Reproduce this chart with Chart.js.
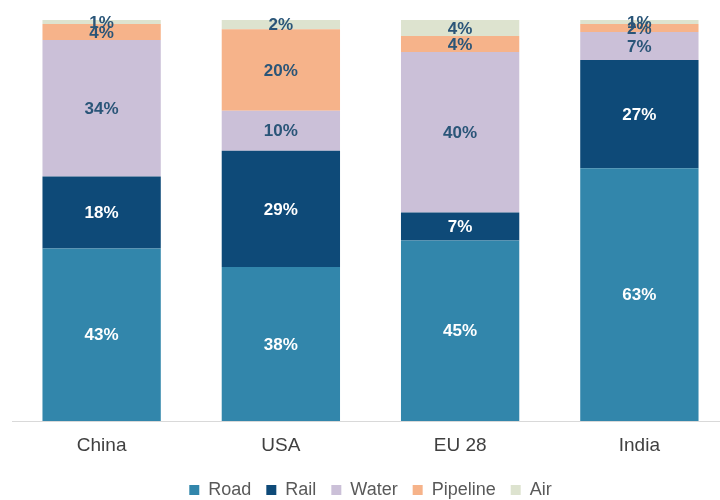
<!DOCTYPE html>
<html>
<head>
<meta charset="utf-8">
<script src="https://cdn.jsdelivr.net/npm/chart.js@4"></script>
<style>
  html, body { margin: 0; padding: 0; background: #ffffff; overflow: hidden; }
  #wrap { position: relative; width: 730px; height: 509px; }
</style>
</head>
<body>
<div id="wrap"><canvas id="c"></canvas></div>
<script>
const categories = ["China", "USA", "EU 28", "India"];
const road     = [43, 38.4, 45, 63];
const rail     = [18, 29, 7, 27];
const water    = [34, 10, 40, 7];
const pipeline = [4, 20.3, 4, 2];
const air      = [1, 2.3, 4, 1];
const seriesNames = ["Road", "Rail", "Water", "Pipeline", "Air"];
const seriesColors = ["#3286AB", "#0E4A78", "#CBC0D8", "#F6B38A", "#DDE3CF"];
const labelColors = ["#ffffff", "#ffffff", "#2A5578", "#2A5578", "#2A5578"];

const valueLabels = {
  id: "valueLabels",
  afterDatasetsDraw(chart) {
    const ctx = chart.ctx;
    ctx.save();
    ctx.font = "bold 17px 'Liberation Sans', Arial, sans-serif";
    ctx.textAlign = "center";
    ctx.textBaseline = "middle";
    chart.data.datasets.forEach((ds, di) => {
      const meta = chart.getDatasetMeta(di);
      meta.data.forEach((bar, i) => {
        const v = ds.data[i];
        const y = (bar.y + bar.base) / 2;
        ctx.fillStyle = labelColors[di];
        ctx.fillText(Math.round(v) + "%", bar.x, y + 1);
      });
    });
    ctx.restore();
  }
};

const arrays = [road, rail, water, pipeline, air];
new Chart(document.getElementById("c"), {
  type: "bar",
  data: {
    labels: categories,
    datasets: seriesNames.map((n, k) => ({
      label: n,
      data: arrays[k],
      backgroundColor: seriesColors[k],
      borderWidth: 0,
      barPercentage: 0.66,
      categoryPercentage: 1.0
    }))
  },
  options: {
    responsive: true,
    maintainAspectRatio: false,
    animation: false,
    layout: { padding: { left: 12, right: 1, top: 20, bottom: 0 } },
    plugins: {
      tooltip: { enabled: false },
      legend: {
        position: "bottom",
        labels: {
          boxWidth: 10, boxHeight: 10, padding: 15,
          color: "#595959",
          font: { family: "'Liberation Sans', Arial, sans-serif", size: 18 }
        }
      }
    },
    scales: {
      x: {
        stacked: true,
        grid: { display: false, drawTicks: false },
        border: { display: true, color: "#D9D9D9", width: 1 },
        ticks: {
          padding: 13,
          color: "#404040",
          font: { family: "'Liberation Sans', Arial, sans-serif", size: 19 }
        },
        afterFit: (s) => { s.height = 45; }
      },
      y: {
        stacked: true,
        display: false,
        min: 0,
        max: 100
      }
    }
  },
  plugins: [valueLabels]
});
</script>
</body>
</html>
